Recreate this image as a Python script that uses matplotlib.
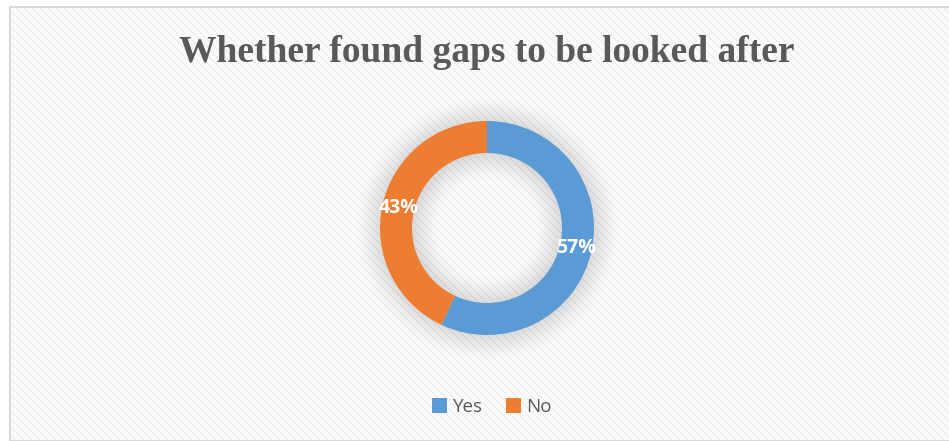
import numpy as np
import matplotlib
matplotlib.use("Agg")
import matplotlib.pyplot as plt
from matplotlib.patches import Patch

# Chart content
title = "Whether found gaps to be looked after"
categories = ["Yes", "No"]
shares = [57, 43]
colors = ["#5B9BD5", "#ED7D31"]

W, H = 949, 441
DPI = 100
fig = plt.figure(figsize=(W / DPI, H / DPI), dpi=DPI)
fig.patch.set_facecolor("white")

# Donut geometry in pixels (centre from the left/top edge, outer/inner radius)
cx, cy = 487, 228
r_out, r_in = 107, 75

# ---- textured chart-area background with a soft shadow behind the ring ----
yy, xx = np.mgrid[0:H, 0:W]
stripe = ((xx // 2 - yy // 2) % 4) == 0
bg = np.where(stripe, 0.935, 0.985)

dist = np.hypot(xx - cx, yy - cy)
ring = ((dist <= r_out + 6) & (dist >= r_in - 6)).astype(float)

def box_blur(a, k):
    pad = k // 2
    b = np.pad(a, pad, mode="constant")
    c = np.cumsum(np.cumsum(b, axis=0), axis=1)
    c = np.pad(c, ((1, 0), (1, 0)))
    out = (c[k:, k:] - c[:-k, k:] - c[k:, :-k] + c[:-k, :-k]) / (k * k)
    return out[:a.shape[0], :a.shape[1]]

shadow = box_blur(box_blur(ring, 35), 11)
bg = bg * (1 - 0.18 * shadow)

# outside the chart frame stays white
frame_l, frame_t, frame_b = 10, 7, 440
bg[:, :frame_l] = 1.0
bg[:frame_t, :] = 1.0
bg[frame_b:, :] = 1.0

rgb = np.dstack([bg, bg, bg])
bg_ax = fig.add_axes([0, 0, 1, 1])
bg_ax.imshow(rgb, extent=(0, W, H, 0), interpolation="nearest", aspect="auto")
bg_ax.set_xlim(0, W)
bg_ax.set_ylim(H, 0)
bg_ax.axis("off")
frame_col = "#d9d9d9"
bg_ax.plot([frame_l + 0.5, frame_l + 0.5], [frame_t, frame_b], color=frame_col, lw=1.5)
bg_ax.plot([frame_l, W], [frame_t - 0.5, frame_t - 0.5], color=frame_col, lw=1.5)
bg_ax.plot([frame_l, W], [frame_b + 0.5, frame_b + 0.5], color=frame_col, lw=1.5)

# ---- title ----
fig.text(487 / W, 1 - 62 / H, title, ha="center", va="baseline",
         fontsize=27, fontweight="bold", family="Liberation Serif", color="#595959")

# ---- donut ----
ax = fig.add_axes([(cx - r_out) / W, (H - cy - r_out) / H, 2 * r_out / W, 2 * r_out / H])
wedges, texts, autotexts = ax.pie(
    shares, colors=colors, startangle=90, counterclock=False,
    radius=1.0, wedgeprops=dict(width=1 - r_in / r_out, linewidth=0),
    autopct=lambda p: f"{p:.0f}%", pctdistance=0.85,
    textprops=dict(color="white", fontsize=14, fontweight="bold", family="Open Sans"))
ax.set_xlim(-1, 1)
ax.set_ylim(-1, 1)
ax.set_aspect("equal")
ax.axis("off")

# ---- legend ----
handles = [Patch(facecolor=c, edgecolor="none") for c in colors]
fig.legend(handles, categories, loc="center", bbox_to_anchor=(492 / W, 1 - 407 / H),
           ncol=2, frameon=False, handlelength=0.8, handleheight=0.8,
           handletextpad=0.3, columnspacing=1.2,
           prop=dict(family="Open Sans", size=13.5), labelcolor="#595959")

fig.savefig("out.png", dpi=DPI)
